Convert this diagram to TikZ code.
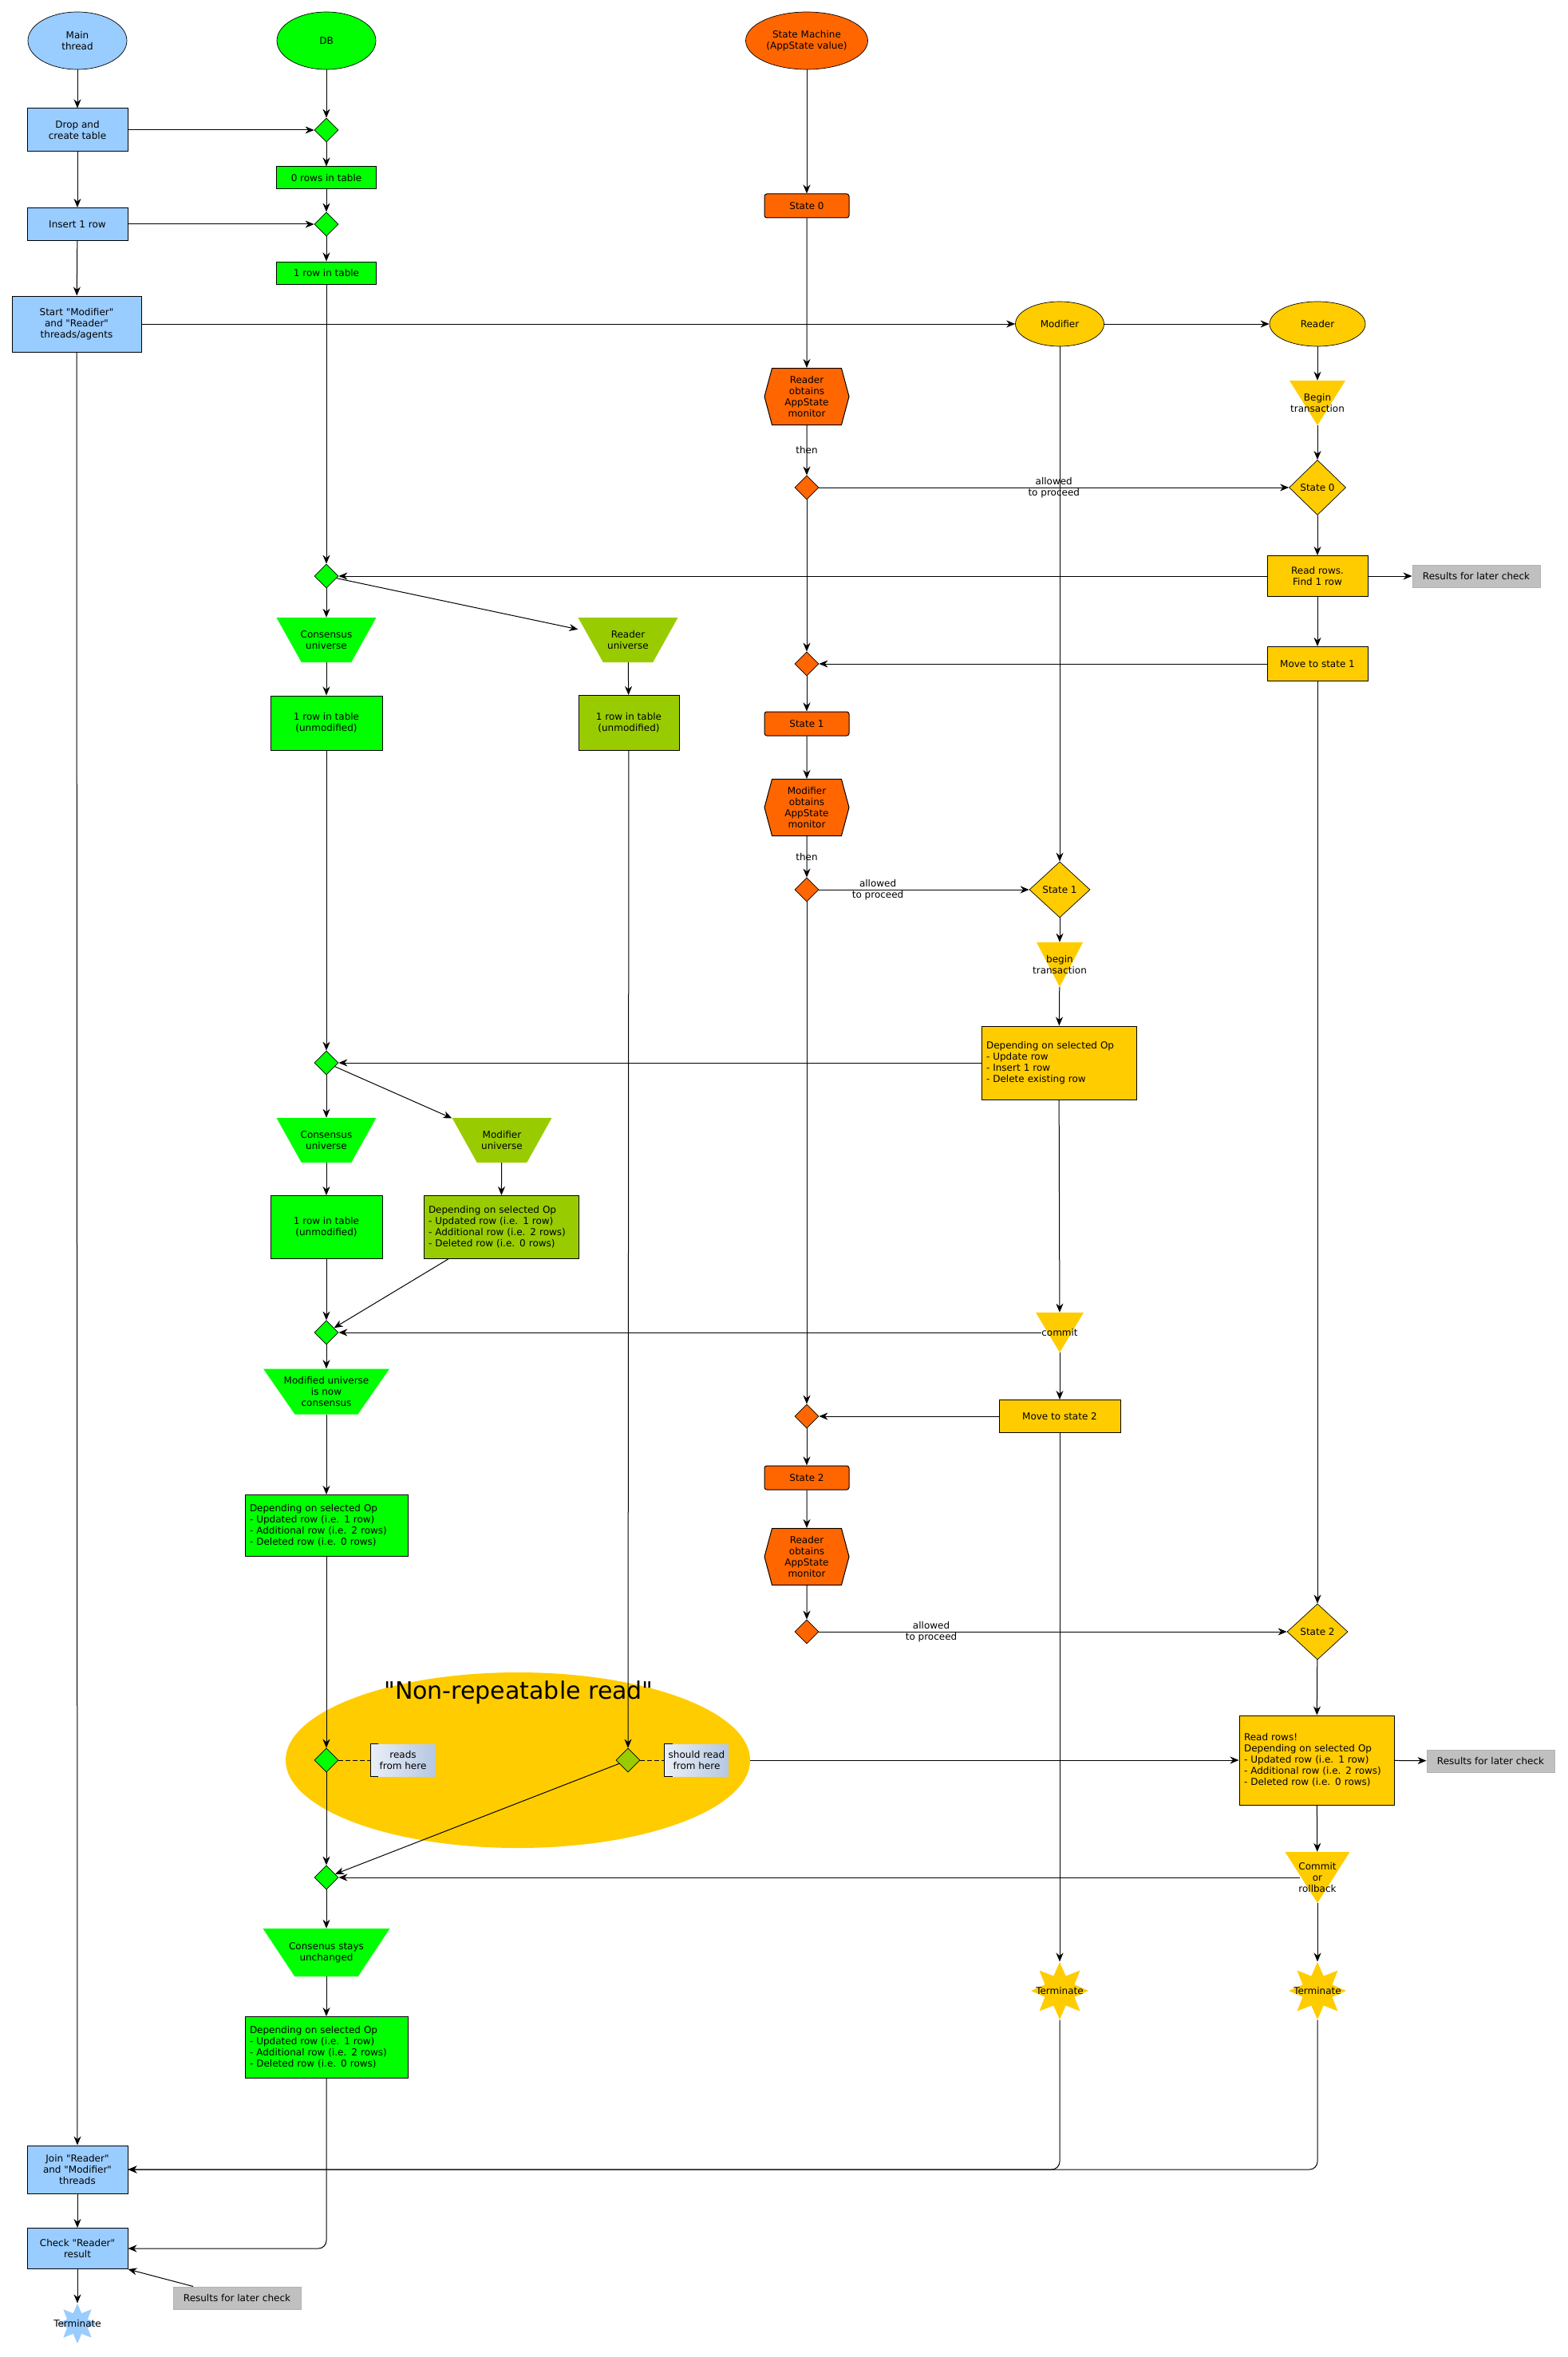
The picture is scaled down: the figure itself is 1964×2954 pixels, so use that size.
\documentclass[tikz,border=0pt]{standalone}
\usepackage{fontspec}
\setmainfont{DejaVu Sans}[Ligatures=TeXOff]
\usetikzlibrary{shapes.geometric,shapes.symbols,arrows.meta,calc}
\definecolor{threadblue}{HTML}{99CCFF}
\definecolor{dbgreen}{HTML}{00FF00}
\definecolor{univolive}{HTML}{99CC00}
\definecolor{smorange}{HTML}{FF6600}
\definecolor{agentyellow}{HTML}{FFCC00}
\definecolor{resultgrey}{HTML}{C0C0C0}
\definecolor{notelight}{HTML}{EAEFF7}
\definecolor{notedark}{HTML}{B6C7E2}

\begin{document}
\begin{tikzpicture}[x=1pt,y=-1pt,
    every node/.style={font=\fontsize{12}{14}\selectfont, align=center},
    arr/.style={-{Stealth[length=11pt,width=9pt,inset=3.5pt]}, line width=1pt},
    box/.style={draw, line width=1pt, inner sep=2pt},
    thread/.style={ellipse, draw, line width=0.7pt, minimum width=124pt, minimum height=72pt, inner sep=0pt},
    gate/.style={diamond, draw, line width=0.7pt, minimum width=30pt, minimum height=30pt, inner sep=0pt},
    decision/.style={diamond, draw, line width=0.7pt, fill=agentyellow, minimum width=76pt, minimum height=70pt, inner sep=0pt},
    statebox/.style={box, rounded corners=3pt, fill=smorange, minimum width=106pt, minimum height=30pt},
    monitor/.style={signal, signal to=east and west, signal pointer angle=150, draw, line width=1pt, fill=smorange, minimum width=106pt, minimum height=71pt, inner sep=0pt},
    opsbox/.style={box, align=left, text width=#1, inner xsep=6pt},
    universe/.style={inner sep=0pt, minimum height=56pt, path picture={
        \fill[#1] (path picture bounding box.north west) -- (path picture bounding box.north east)
          -- ($(path picture bounding box.south east)!0.25!(path picture bounding box.south west)$)
          -- ($(path picture bounding box.south west)!0.25!(path picture bounding box.south east)$) -- cycle;}},
    tri/.style={inner sep=0pt, path picture={
        \fill[agentyellow] (path picture bounding box.north west) -- (path picture bounding box.north east)
          -- (path picture bounding box.south) -- cycle;}},
    starnode/.style={star, star points=8, star point ratio=1.8, inner sep=0pt, minimum size=72pt, fill=agentyellow, label={center:Terminate}},
    results/.style={draw=black!30, line width=1pt, fill=resultgrey, minimum width=160pt, minimum height=28pt, inner sep=0pt},
    note/.style={left color=notelight, right color=notedark, minimum width=81pt, minimum height=40pt, inner sep=2pt},
    notelink/.style={dash pattern=on 6pt off 3pt, line width=1pt},
  ]
  \useasboundingbox (0,0) rectangle (1964,2954);

  \node[ellipse, fill=agentyellow, minimum width=582pt, minimum height=220pt, inner sep=0pt] (nrr) at (649,2206) {};
  \node[font=\fontsize{30}{34}\selectfont] (nrrtitle) at (650,2121) {"Non-repeatable read"};

  \node[thread, fill=threadblue] (mainth) at (97,51) {Main\\thread};
  \node[box, fill=threadblue, minimum width=126pt, minimum height=54pt] (drop) at (97,163) {Drop and\\create table};
  \node[box, fill=threadblue, minimum width=126pt, minimum height=41pt] (insert) at (97,281) {Insert 1 row};
  \node[box, fill=threadblue, minimum width=162pt, minimum height=70pt] (start) at (96,406) {Start "Modifier"\\and "Reader"\\threads/agents};
  \node[box, fill=threadblue, minimum width=126pt, minimum height=60pt] (join) at (97,2719) {Join "Reader"\\and "Modifier"\\threads};
  \node[box, fill=threadblue, minimum width=126pt, minimum height=51pt] (check) at (97,2818) {Check "Reader"\\result};
  \node[starnode, fill=threadblue, minimum size=50pt] (mainend) at (97,2912) {};
  \node[results] (resthree) at (297,2880) {Results for later check};

  \node[thread, fill=dbgreen] (db) at (409,51) {DB};
  \node[gate, fill=dbgreen] (done) at (409,163) {};
  \node[box, fill=dbgreen, minimum width=125pt, minimum height=28pt] (zerorows) at (409,223) {0 rows in table};
  \node[gate, fill=dbgreen] (dtwo) at (409,281) {};
  \node[box, fill=dbgreen, minimum width=125pt, minimum height=28pt] (onerow) at (409,342) {1 row in table};
  \node[gate, fill=dbgreen] (dthree) at (409,722) {};
  \node[universe=dbgreen, minimum width=125pt] (consone) at (409,802) {Consensus\\universe};
  \node[box, fill=dbgreen, minimum width=140pt, minimum height=68pt] (dbsame) at (409,906) {1 row in table\\(unmodified)};
  \node[gate, fill=dbgreen] (dfour) at (409,1332) {};
  \node[universe=dbgreen, minimum width=125pt] (constwo) at (409,1429) {Consensus\\universe};
  \node[box, fill=dbgreen, minimum width=140pt, minimum height=79pt] (dbsametwo) at (409,1538) {1 row in table\\(unmodified)};
  \node[gate, fill=dbgreen] (dfive) at (409,1670) {};
  \node[universe=dbgreen, minimum width=158pt, minimum height=57pt] (modcons) at (409,1744) {Modified universe\\is now\\consensus};
  \node[opsbox=192pt, fill=dbgreen, minimum height=77pt] (dbops) at (409,1912) {Depending on selected Op\\- Updated row (i.e. 1 row)\\- Additional row (i.e. 2 rows)\\- Deleted row (i.e. 0 rows)};
  \node[gate, fill=dbgreen] (dsix) at (409,2206) {};
  \node[gate, fill=dbgreen] (dseven) at (409,2353) {};
  \node[universe=dbgreen, minimum width=159pt, minimum height=60pt] (consstay) at (409,2447) {Consenus stays\\unchanged};
  \node[opsbox=192pt, fill=dbgreen, minimum height=77pt] (dbfinal) at (409,2566) {Depending on selected Op\\- Updated row (i.e. 1 row)\\- Additional row (i.e. 2 rows)\\- Deleted row (i.e. 0 rows)};

  \node[universe=univolive, minimum width=125pt] (readuni) at (787,802) {Reader\\universe};
  \node[box, fill=univolive, minimum width=126pt, minimum height=69pt] (readsame) at (788,906) {1 row in table\\(unmodified)};
  \node[gate, fill=univolive] (olivediam) at (787,2206) {};
  \node[universe=univolive, minimum width=125pt] (moduni) at (629,1429) {Modifier\\universe};
  \node[opsbox=182pt, fill=univolive, minimum height=79pt] (modsame) at (628,1538) {Depending on selected Op\\- Updated row (i.e. 1 row)\\- Additional row (i.e. 2 rows)\\- Deleted row (i.e. 0 rows)};

  \node[note] (notereads) at (505,2206) {reads\\from here};
  \node[note, minimum width=80pt] (noteshould) at (873,2206) {should read\\from here};

  \node[thread, fill=smorange, minimum width=153pt] (sm) at (1011,51) {State Machine\\(AppState value)};
  \node[statebox] (szero) at (1011,258) {State 0};
  \node[monitor] (rdmon) at (1011,497) {Reader\\obtains\\AppState\\monitor};
  \node[gate, fill=smorange] (oone) at (1011,611) {};
  \node[gate, fill=smorange] (otwo) at (1011,832) {};
  \node[statebox] (sone) at (1011,907) {State 1};
  \node[monitor] (modmon) at (1011,1012) {Modifier\\obtains\\AppState\\monitor};
  \node[gate, fill=smorange] (othree) at (1011,1115) {};
  \node[gate, fill=smorange] (ofour) at (1011,1775) {};
  \node[statebox] (stwo) at (1011,1852) {State 2};
  \node[monitor] (rdmontwo) at (1011,1951) {Reader\\obtains\\AppState\\monitor};
  \node[gate, fill=smorange] (ofive) at (1011,2045) {};

  \node[ellipse, draw, line width=0.7pt, fill=agentyellow, minimum width=111pt, minimum height=56pt, inner sep=0pt] (modifier) at (1328,406) {Modifier};
  \node[decision] (modsone) at (1328,1115) {State 1};
  \node[tri, minimum width=58pt, minimum height=56pt, label={center:begin\\transaction}] (modbegin) at (1328,1209) {};
  \node[opsbox=182pt, fill=agentyellow, minimum height=92pt] (modops) at (1327,1332) {Depending on selected Op\\- Update row\\- Insert 1 row\\- Delete existing row};
  \node[tri, minimum width=60pt, minimum height=50pt, label={center:commit}] (commit) at (1328,1670) {};
  \node[box, fill=agentyellow, minimum width=152pt, minimum height=41pt] (movetwo) at (1328,1775) {Move to state 2};
  \node[starnode] (modend) at (1328,2495) {};

  \node[ellipse, draw, line width=0.7pt, fill=agentyellow, minimum width=120pt, minimum height=56pt, inner sep=0pt] (reader) at (1651,406) {Reader};
  \node[tri, minimum width=70pt, minimum height=56pt, label={center:Begin\\transaction}] (rdbegin) at (1651,505) {};
  \node[decision, minimum width=71pt, minimum height=69pt] (rdszero) at (1651,611) {State 0};
  \node[box, fill=agentyellow, minimum width=126pt, minimum height=51pt] (readone) at (1651,722) {Read rows.\\Find 1 row};
  \node[results] (resone) at (1850,722) {Results for later check};
  \node[box, fill=agentyellow, minimum width=126pt, minimum height=43pt] (moveone) at (1651,832) {Move to state 1};
  \node[decision] (rdstwo) at (1651,2045) {State 2};
  \node[opsbox=182pt, fill=agentyellow, minimum height=112pt] (readtwo) at (1650,2206) {Read rows!\\Depending on selected Op\\- Updated row (i.e. 1 row)\\- Additional row (i.e. 2 rows)\\- Deleted row (i.e. 0 rows)};
  \node[results] (restwo) at (1868,2207) {Results for later check};
  \node[tri, minimum width=81pt, minimum height=64pt, label={center:Commit\\or\\rollback}] (rdcommit) at (1651,2353) {};
  \node[starnode] (rdend) at (1651,2495) {};

  \foreach \n in {notereads,noteshould}
    \draw[line width=1pt] ([xshift=10pt]\n.north west) -- (\n.north west) -- (\n.south west) -- ([xshift=10pt]\n.south west);
  \draw[notelink] (dsix) -- (notereads);
  \draw[notelink] (olivediam) -- (noteshould);

  \draw[arr] (mainth) -- (drop);
  \draw[arr] (drop) -- (insert);
  \draw[arr] (insert) -- (start);
  \draw[arr] (start) -- (join);
  \draw[arr] (join) -- (check);
  \draw[arr] (check) -- (mainend);
  \draw[arr] (drop) -- (done);
  \draw[arr] (insert) -- (dtwo);
  \draw[arr] (start) -- (modifier);
  \draw[arr] (modifier) -- (reader);

  \draw[arr] (db) -- (done);
  \draw[arr] (done) -- (zerorows);
  \draw[arr] (zerorows) -- (dtwo);
  \draw[arr] (dtwo) -- (onerow);
  \draw[arr] (onerow) -- (dthree);
  \draw[arr] (readone) -- (dthree);
  \draw[arr] (dthree) -- (consone);
  \draw[arr] (dthree) -- (readuni);
  \draw[arr] (consone) -- (dbsame);
  \draw[arr] (readuni) -- (readsame);
  \draw[arr] (dbsame) -- (dfour);
  \draw[arr] (modops) -- (dfour);
  \draw[arr] (dfour) -- (constwo);
  \draw[arr] (dfour) -- (moduni);
  \draw[arr] (constwo) -- (dbsametwo);
  \draw[arr] (moduni) -- (modsame);
  \draw[arr] (dbsametwo) -- (dfive);
  \draw[arr] (modsame) -- (dfive);
  \draw[arr] ([xshift=7pt]commit.west) -- (dfive);
  \draw[arr] (dfive) -- (modcons);
  \draw[arr] (modcons) -- (dbops);
  \draw[arr] (dbops) -- (dsix);
  \draw[arr] (readsame) -- (olivediam);
  \draw[arr] (nrr) -- (readtwo);
  \draw[arr] (dsix) -- (dseven);
  \draw[arr] (olivediam) -- (dseven);
  \draw[arr] ([xshift=19pt]rdcommit.west) -- (dseven);
  \draw[arr] (dseven) -- (consstay);
  \draw[arr] (consstay) -- (dbfinal);
  \draw[arr, rounded corners=10pt] (dbfinal) |- (check);
  \draw[arr] (resthree) -- (check.south east);

  \draw[arr] (sm) -- (szero);
  \draw[arr] (szero) -- (rdmon);
  \draw[arr] (rdmon) -- node {then} (oone);
  \draw[arr] (oone) -- node {allowed\\to proceed} (rdszero);
  \draw[arr] (oone) -- (otwo);
  \draw[arr] (moveone) -- (otwo);
  \draw[arr] (otwo) -- (sone);
  \draw[arr] (sone) -- (modmon);
  \draw[arr] (modmon) -- node {then} (othree);
  \draw[arr] (othree) -- node[pos=0.28] {allowed\\to proceed} (modsone);
  \draw[arr] (othree) -- (ofour);
  \draw[arr] (movetwo) -- (ofour);
  \draw[arr] (ofour) -- (stwo);
  \draw[arr] (stwo) -- (rdmontwo);
  \draw[arr] (rdmontwo) -- (ofive);
  \draw[arr] (ofive) -- node[pos=0.24] {allowed\\to proceed} (rdstwo);

  \draw[arr] (modifier) -- (modsone);
  \draw[arr] (modsone) -- (modbegin);
  \draw[arr] (modbegin) -- (modops);
  \draw[arr] (modops) -- (commit);
  \draw[arr] (commit) -- (movetwo);
  \draw[arr] (movetwo) -- (modend);
  \draw[arr, rounded corners=10pt] (modend) |- (join);

  \draw[arr] (reader) -- (rdbegin);
  \draw[arr] (rdbegin) -- (rdszero);
  \draw[arr] (rdszero) -- (readone);
  \draw[arr] (readone) -- (resone);
  \draw[arr] (readone) -- (moveone);
  \draw[arr] (moveone) -- (rdstwo);
  \draw[arr] (rdstwo) -- (readtwo);
  \draw[arr] (readtwo) -- (restwo);
  \draw[arr] (readtwo) -- (rdcommit);
  \draw[arr] (rdcommit) -- (rdend);
  \draw[arr, rounded corners=10pt] (rdend) |- (join);
\end{tikzpicture}
\end{document}
